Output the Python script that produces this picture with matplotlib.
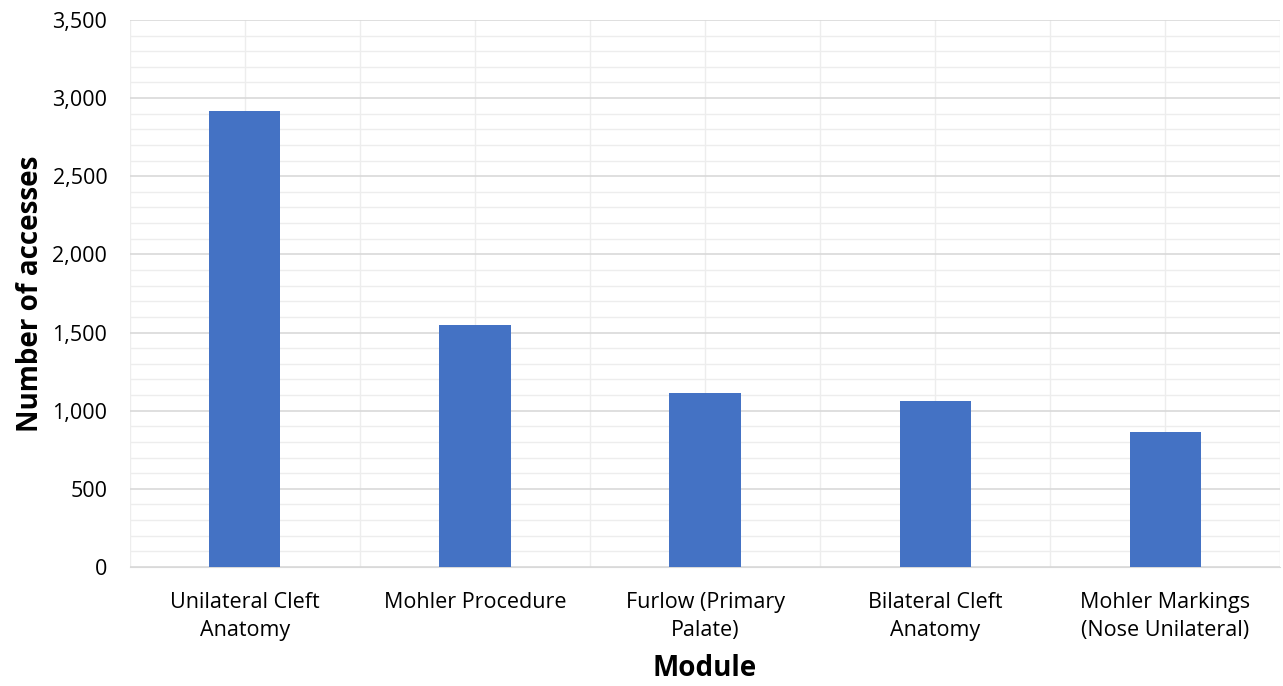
import numpy as np
import matplotlib
matplotlib.use("Agg")
import matplotlib.pyplot as plt
from matplotlib.ticker import MultipleLocator, FuncFormatter

# ─── Data ──────────────────────────────────────────────────────────────────────
modules = ["Unilateral Cleft\nAnatomy", "Mohler Procedure", "Furlow (Primary\nPalate)",
           "Bilateral Cleft\nAnatomy", "Mohler Markings\n(Nose Unilateral)"]
accesses = [2920, 1545, 1110, 1065, 865]

plt.rcParams["font.family"] = ["Open Sans", "DejaVu Sans"]

fig = plt.figure(figsize=(12.83, 6.86), dpi=100)
ax = fig.add_axes([0.101, 0.1735, 0.897, 0.7975])

x = np.arange(len(modules))
ax.bar(x, accesses, width=0.31, color="#4472C4", zorder=3)

ax.set_xlim(-0.5, len(modules) - 0.5)
ax.set_ylim(0, 3500)
ax.yaxis.set_major_locator(MultipleLocator(500))
ax.yaxis.set_minor_locator(MultipleLocator(100))
ax.yaxis.set_major_formatter(FuncFormatter(lambda v, p: f"{v:,.0f}"))

# gridlines: major + minor horizontal, vertical at centres and boundaries
ax.grid(axis="y", which="major", color="#d9d9d9", lw=1.2, zorder=0)
ax.grid(axis="y", which="minor", color="#ededed", lw=1.0, zorder=0)
for v in np.arange(-0.5, len(modules), 0.5):
    ax.axvline(v, color="#ededed", lw=1.0, zorder=0)

ax.set_xticks(x)
ax.set_xticklabels(modules, fontsize=15.5, linespacing=1.45)
ax.tick_params(axis="y", labelsize=15.5, length=0, pad=16)
ax.tick_params(axis="x", length=0, pad=18)
ax.tick_params(which="minor", length=0)
for s in ["top", "right", "left"]:
    ax.spines[s].set_visible(False)
ax.spines["bottom"].set_color("#d9d9d9")

ax.set_xlabel("Module", fontsize=20, fontweight="bold", labelpad=9)
ax.set_ylabel("Number of accesses", fontsize=20, fontweight="bold", labelpad=5)

plt.savefig("out.png", dpi=100)
